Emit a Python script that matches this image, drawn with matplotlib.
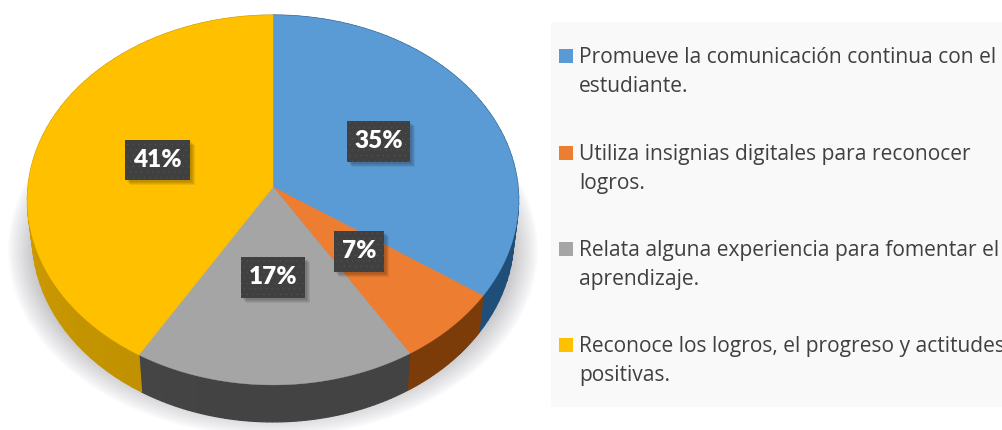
import numpy as np
import matplotlib
matplotlib.use('Agg')
import matplotlib.pyplot as plt
from matplotlib.colors import to_rgb
from matplotlib.patches import Rectangle

categories = ['Promueve la comunicación continua con el\nestudiante.',
              'Utiliza insignias digitales para reconocer\nlogros.',
              'Relata alguna experiencia para fomentar el\naprendizaje.',
              'Reconoce los logros, el progreso y actitudes\npositivas.']
values = [34.6, 6.6, 17.4, 41.4]
colors = ['#5b9bd5', '#ed7d31', '#a5a5a5', '#ffc000']
side_colors = ['#1f4e79', '#7c3c0a', '#434343', '#bf9000']
label_boxes = [(347, 121, 63, 41), (334, 231, 50, 41), (241, 257, 64, 41), (125, 140, 65, 40)]
legend_y = [47, 144, 240, 336]

cx, cy = 273, 187
rx, ry, k = 245, 184, 0.0703
depth = 37


def project(theta, r=1.0):
    # theta clockwise from 12 o'clock, simple perspective so the apex sits above the ellipse centre
    x = r * np.sin(theta)
    y = r * np.cos(theta)
    d = 1 + k * y
    return cx + rx * x / d, cy - ry * y / d


fig = plt.figure(figsize=(10.03, 4.30), dpi=100)
ax = fig.add_axes([0, 0, 1, 1])
ax.set_xlim(0, 1003)
ax.set_ylim(430, 0)
ax.axis('off')

# soft shadow under the pie
th = np.linspace(0, 2 * np.pi, 200)
for i in range(40):
    s = 1 - i / 40
    ax.fill(273 + (205 + 60 * s) * np.sin(th), 250 + (125 + 62 * s) * np.cos(th),
            color='#77777f', alpha=0.024, lw=0, zorder=1)

edges = np.cumsum([0] + values) / sum(values) * 2 * np.pi

# side wall, thin strips so the shade can change along the rim
for i in range(len(values)):
    ang = np.linspace(edges[i], edges[i + 1], 60)
    for a0, a1 in zip(ang[:-1], ang[1:]):
        px, py = project(np.array([a0, a1]))
        bx = cx + (px - cx) * 0.98
        # only the left side catches some light
        mix = 0.2 * max(0, -np.sin(a0)) ** 3
        shade = tuple((1 - mix) * np.array(to_rgb(side_colors[i])) + mix * np.array(to_rgb(colors[i])))
        ax.fill([px[0], px[1], bx[1], bx[0]], [py[0], py[1], py[1] + depth, py[0] + depth],
                color=shade, lw=0.9, zorder=2)

# top faces
for i in range(len(values)):
    ang = np.linspace(edges[i], edges[i + 1], 120)
    px, py = project(ang)
    ax.fill(np.r_[cx, px], np.r_[cy, py], color=colors[i], lw=0.3, zorder=3)

# data labels
plt.rcParams['hatch.linewidth'] = 0
for (x, y, w, h), v in zip(label_boxes, values):
    for g in range(4):
        ax.add_patch(Rectangle((x + 2 + g, y + 2 + g), w, h, fc='#000000', alpha=0.07, lw=0, zorder=4))
    ax.add_patch(Rectangle((x, y), w, h, fc='#404040', ec='#5e5e5e', hatch='...', lw=0, zorder=5))
    ax.text(x + w / 2, y + h / 2, f'{v:.0f}%', color='white', fontsize=17.5, fontweight='heavy',
            family='Lato', ha='center', va='center', zorder=6)

# legend panel
ax.add_patch(Rectangle((551, 22), 452, 385, fc='#f9f9f9', lw=0, zorder=1.5))
for y, c, t in zip(legend_y, colors, categories):
    ax.add_patch(Rectangle((559, y + 2), 14, 14, fc=c, lw=0, zorder=3))
    ax.text(579, y, t, color='#404040', fontsize=15.1, family='Open Sans', va='top', ha='left',
            linespacing=1.53, zorder=3, clip_on=True)

fig.savefig('out.png', dpi=100)
